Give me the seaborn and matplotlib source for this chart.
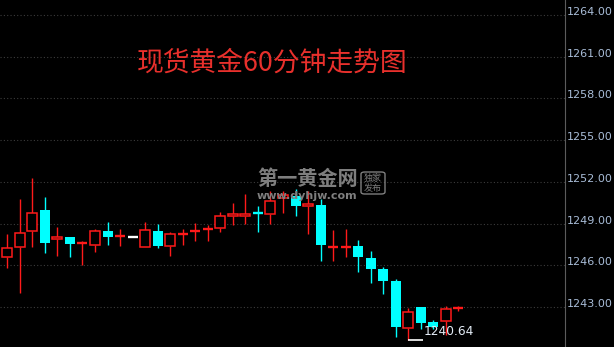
import matplotlib
matplotlib.use("Agg")
import matplotlib.pyplot as plt
import numpy as np
import pandas as pd
import seaborn as sns
from matplotlib.patches import FancyBboxPatch

# ---- data ----
opens = [1246.60, 1247.32, 1248.47, 1249.94, 1247.90, 1248.06, 1247.55, 1247.47, 1248.47, 1248.07,
         1248.04, 1247.32, 1248.47, 1247.39, 1248.25, 1248.46, 1248.61, 1248.69, 1249.55, 1249.55,
         1249.76, 1249.70, 1250.85, 1250.99, 1250.27, 1250.37, 1247.31, 1247.25, 1247.35, 1246.51,
         1245.71, 1244.85, 1241.52, 1242.98, 1241.90, 1242.02, 1242.88]
highs = [1248.28, 1250.80, 1252.31, 1250.94, 1248.78, 1248.06, 1247.78, 1248.62, 1249.12, 1248.62,
         1248.04, 1249.14, 1249.00, 1248.42, 1248.62, 1249.07, 1248.86, 1249.86, 1250.51, 1251.16,
         1250.29, 1251.35, 1251.35, 1251.52, 1251.35, 1250.77, 1248.57, 1248.64, 1247.85, 1247.01,
         1245.86, 1245.02, 1242.91, 1242.98, 1242.09, 1243.05, 1243.10]
lows = [1245.79, 1244.01, 1247.30, 1246.87, 1246.65, 1246.58, 1246.05, 1246.96, 1247.44, 1247.37,
        1248.04, 1247.32, 1247.23, 1246.65, 1247.47, 1247.75, 1247.75, 1248.38, 1248.90, 1249.00,
        1248.38, 1248.98, 1249.74, 1249.53, 1248.23, 1246.31, 1246.31, 1246.58, 1245.50, 1244.73,
        1243.94, 1240.85, 1240.64, 1241.42, 1241.40, 1240.98, 1242.69]
closes = [1247.25, 1248.33, 1249.77, 1247.59, 1248.04, 1247.51, 1247.58, 1248.47, 1248.02, 1248.10,
          1248.04, 1248.54, 1247.37, 1248.26, 1248.28, 1248.49, 1248.63, 1249.55, 1249.72, 1249.72,
          1249.73, 1250.63, 1251.06, 1250.25, 1250.44, 1247.44, 1247.33, 1247.32, 1246.58, 1245.74,
          1244.88, 1241.57, 1242.67, 1241.85, 1241.55, 1242.88, 1242.98]
y_ticks = [1243, 1246, 1249, 1252, 1255, 1258, 1261, 1264]
title_text = "现货黄金60分钟走势图"
low_label = "1240.64"
watermark = "第一黄金网"
watermark_url = "www.dyhjw.com"
badge_lines = ["独家", "发布"]

df = pd.DataFrame({"idx": np.arange(len(opens)), "open": opens, "high": highs,
                   "low": lows, "close": closes})

# ---- style ----
sns.set_style("dark", {"axes.facecolor": "black", "figure.facecolor": "black",
                       "grid.color": "#3a3a3a"})
plt.rcParams['font.family'] = ['DejaVu Sans', 'Noto Sans CJK SC']

RED = "#ff1a1a"
CYAN = "#00ffff"
W = 0.8

fig = plt.figure(figsize=(6.14, 3.47), dpi=100)
fig.patch.set_facecolor("black")
ax = fig.add_axes([0, 0, 565 / 614, 1])
ax.set_facecolor("black")

for _, r in df.iterrows():
    x, o, h, l, c = r["idx"], r["open"], r["high"], r["low"], r["close"]
    top, bot = max(o, c), min(o, c)
    if c > o:
        col = RED
    elif c < o:
        col = CYAN
    else:
        col = "white"
    if abs(c - o) < 0.11:
        # doji / very thin body: thick horizontal stroke
        if h > l:
            ax.vlines(x, l, h, color=col, lw=1.0, zorder=3)
        ax.hlines((o + c) / 2, x - W / 2, x + W / 2, color=col, lw=1.7, zorder=4)
    elif c > o:
        ax.vlines(x, top, h, color=col, lw=1.0, zorder=3)
        ax.vlines(x, l, bot, color=col, lw=1.0, zorder=3)
        ax.bar(x, top - bot, bottom=bot, width=W, facecolor="black",
               edgecolor=col, linewidth=1.1, zorder=4)
    else:
        ax.vlines(x, l, h, color=col, lw=1.0, zorder=3)
        ax.bar(x, top - bot, bottom=bot, width=W, facecolor=col,
               edgecolor="none", linewidth=0, zorder=4)

# lowest-point annotation
imin = int(np.argmin(lows))
ax.hlines(lows[imin], imin, imin + 1.2, color="white", lw=1.2, zorder=5)
ax.text(imin + 1.25, 1240.95, low_label, color="#e4ecf6", fontsize=8.8,
        va="baseline", ha="left", zorder=6)

ax.set_xlim(-0.58, 44.5)
ax.set_ylim(1240.12, 1265.08)
ax.set_xticks([])
ax.yaxis.tick_right()
ax.set_yticks(y_ticks)
ax.set_yticklabels([f"{t:.2f}" for t in y_ticks])
ax.tick_params(axis="y", length=0, pad=1, labelcolor="#a9bdd8", labelsize=8)
for lbl in ax.get_yticklabels():
    lbl.set_va("baseline")
ax.grid(axis="y", color="#3c3c3c", linestyle=(0, (1, 2)), lw=0.8)
ax.grid(axis="x", visible=False)
for s in ["top", "left", "bottom"]:
    ax.spines[s].set_visible(False)
ax.spines["right"].set_color("#5c5c5c")
ax.spines["right"].set_linewidth(0.8)

# title
fig.text(272 / 614, 1 - 63 / 347, title_text, color="#e8302c", fontsize=19.3,
         ha="center", va="center", family=["Noto Sans CJK SC", "DejaVu Sans"])

# watermark
wm_col = "#7e7e7e"
fig.text(308 / 614, 1 - 179 / 347, watermark, color=wm_col, fontsize=14.5,
         fontweight="bold", ha="center", va="center",
         family=["Noto Sans CJK SC", "DejaVu Sans"], zorder=10)
fig.text(307 / 614, 1 - 196 / 347, watermark_url, color=wm_col, fontsize=8,
         fontweight="bold", ha="center", va="center", zorder=10)
box = FancyBboxPatch((361 / 614, 1 - 194 / 347), 24 / 614, 22 / 347,
                     boxstyle="round,pad=0,rounding_size=0.006",
                     transform=fig.transFigure, facecolor="none",
                     edgecolor=wm_col, lw=1.0, zorder=10)
fig.patches.append(box)
fig.text(373 / 614, 1 - 178 / 347, badge_lines[0], color=wm_col, fontsize=6.5,
         ha="center", va="center", family=["Noto Sans CJK SC"], zorder=10)
fig.text(373 / 614, 1 - 189 / 347, badge_lines[1], color=wm_col, fontsize=6.5,
         ha="center", va="center", family=["Noto Sans CJK SC"], zorder=10)

fig.savefig("out.png", dpi=100, facecolor="black")
